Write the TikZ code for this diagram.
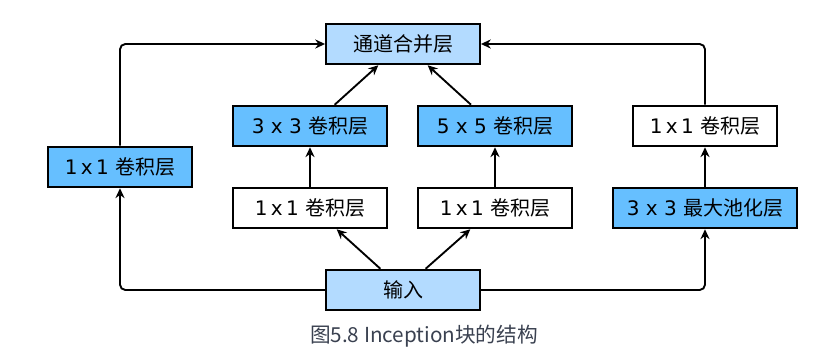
\documentclass[tikz,border=0pt]{standalone}
\usepackage{fontspec}
\setmainfont{DejaVu Sans}
\newfontfamily\cjk{Noto Sans CJK SC}
\usetikzlibrary{arrows.meta,positioning}

\definecolor{convblue}{HTML}{66BFFF}
\definecolor{lightblue}{HTML}{B3DBFF}
\definecolor{captgray}{HTML}{3A4150}

\begin{document}
\begin{tikzpicture}[
    x=0.75pt, y=-0.75pt,
    font=\fontsize{15pt}{17pt}\selectfont,
    layerbase/.style={draw, line width=1.4pt, minimum height=30.5pt,
        inner sep=2pt, align=center},
    ioblock/.style={layerbase, fill=lightblue, minimum width=115.5pt},
    convblock/.style={layerbase, fill=convblue, minimum width=116pt},
    plainblock/.style={layerbase, fill=white, minimum width=116pt},
    arrow/.style={-{Stealth[length=2.6mm, width=2.4mm]}, line width=1.4pt, rounded corners=4pt},
]
\useasboundingbox (0,0) rectangle (819,364);

% top and bottom
\node[ioblock] (concat) at (403,44)  {\cjk 通道合并层};
\node[ioblock] (input)  at (403,290) {\cjk 输入};

% path 1
\node[convblock, minimum width=108.5pt] (p1conv) at (120,167) {1\,x\,1 {\cjk 卷积层}};
% path 2
\node[plainblock] (p2red)  at (310,208) {1\,x\,1 {\cjk 卷积层}};
\node[convblock]  (p2conv) at (310,126) {3 x 3 {\cjk 卷积层}};
% path 3
\node[plainblock] (p3red)  at (495,208) {1\,x\,1 {\cjk 卷积层}};
\node[convblock]  (p3conv) at (495,126) {5 x 5 {\cjk 卷积层}};
% path 4
\node[convblock, minimum width=138.5pt] (p4pool) at (705,208) {3 x 3 {\cjk 最大池化层}};
\node[plainblock, minimum width=108.5pt] (p4conv) at (705,126) {1\,x\,1 {\cjk 卷积层}};

\draw[arrow] (input.west) -| (p1conv.south);
\draw[arrow] (p1conv.north) |- (concat.west);

\draw[arrow] ([xshift=-17pt]input.north) -- ([xshift=20pt]p2red.south);
\draw[arrow] (p2red) -- (p2conv);
\draw[arrow] ([xshift=18.5pt]p2conv.north) -- ([xshift=-18.5pt]concat.south);

\draw[arrow] ([xshift=17pt]input.north) -- ([xshift=-18.5pt]p3red.south);
\draw[arrow] (p3red) -- (p3conv);
\draw[arrow] ([xshift=-18pt]p3conv.north) -- ([xshift=18.5pt]concat.south);

\draw[arrow] (input.east) -| (p4pool.south);
\draw[arrow] (p4pool) -- (p4conv);
\draw[arrow] (p4conv.north) |- (concat.east);

\node[text=captgray, font=\cjk\fontsize{15.5pt}{18pt}\selectfont] (caption) at (424,336) {图5.8 Inception块的结构};
\end{tikzpicture}
\end{document}
